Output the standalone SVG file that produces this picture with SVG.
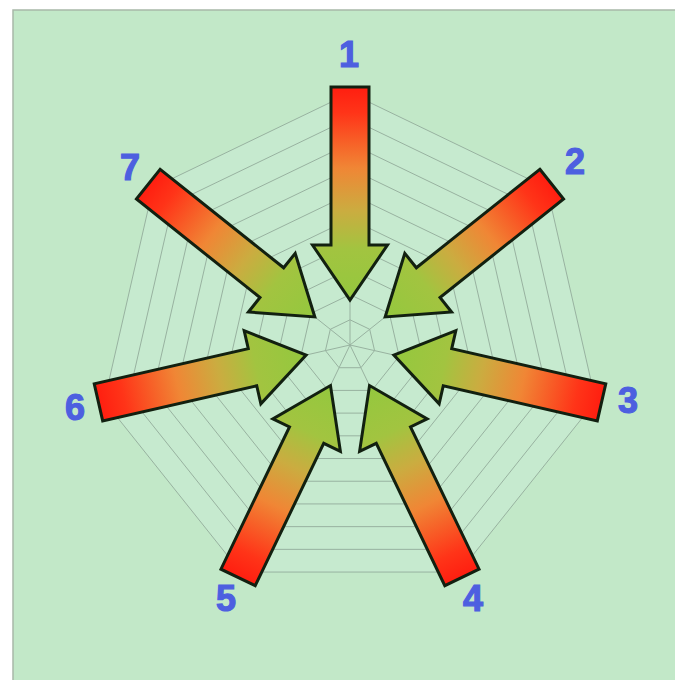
<svg xmlns="http://www.w3.org/2000/svg" xmlns:xlink="http://www.w3.org/1999/xlink" width="675" height="680" viewBox="0 0 675 680">
  <style>
    .ring { fill: none; stroke: #98b2a0; stroke-width: 1; vector-effect: non-scaling-stroke; }
    .spoke { stroke: #98b2a0; stroke-width: 1; }
    .arrow { fill: url(#grad); stroke: #122010; stroke-width: 3; stroke-linejoin: miter; }
    .lbl { font-family: "Liberation Sans", Arial, sans-serif; font-weight: bold; font-size: 36px; fill: #4d5fe0; stroke: #4d5fe0; stroke-width: 1.2; text-anchor: middle; }
  </style>
  <defs>
    <linearGradient id="grad" x1="0" y1="0" x2="0" y2="1">
      <stop offset="0" stop-color="#ff1e10"/>
      <stop offset="0.12" stop-color="#ff3418"/>
      <stop offset="0.38" stop-color="#f08635"/>
      <stop offset="0.58" stop-color="#cbac40"/>
      <stop offset="0.76" stop-color="#a2c440"/>
      <stop offset="1" stop-color="#94c83e"/>
    </linearGradient>
    <polygon id="hep" class="ring" points="0,-100 78.18,-62.35 97.49,22.25 43.39,90.1 -43.39,90.1 -97.49,22.25 -78.18,-62.35"/>
    <path id="arr" class="arrow" d="M -19,-258 H 19 V -100 H 37.5 L 0,-45 L -37.5,-100 H -19 Z"/>
  </defs>

  <rect x="0" y="0" width="675" height="680" fill="#ffffff"/>
  <rect x="13" y="10" width="663" height="671" fill="#c2e8c8" stroke="#a8b8a8" stroke-width="1.5"/>

  <g id="grid" transform="translate(350,345)">
    <polygon points="0,-252 197,-157.1 245.7,56.1 109.3,227.1 -109.3,227.1 -245.7,56.1 -197,-157.1" fill="#c6eacf"/>
    <use xlink:href="#hep" transform="scale(0.252)"/>
    <use xlink:href="#hep" transform="scale(0.504)"/>
    <use xlink:href="#hep" transform="scale(0.756)"/>
    <use xlink:href="#hep" transform="scale(1.008)"/>
    <use xlink:href="#hep" transform="scale(1.26)"/>
    <use xlink:href="#hep" transform="scale(1.512)"/>
    <use xlink:href="#hep" transform="scale(1.764)"/>
    <use xlink:href="#hep" transform="scale(2.016)"/>
    <use xlink:href="#hep" transform="scale(2.268)"/>
    <use xlink:href="#hep" transform="scale(2.52)"/>
    <line class="spoke" x1="0" y1="0" x2="0" y2="-252"/>
    <line class="spoke" x1="0" y1="0" x2="197" y2="-157.1"/>
    <line class="spoke" x1="0" y1="0" x2="245.7" y2="56.1"/>
    <line class="spoke" x1="0" y1="0" x2="109.3" y2="227.1"/>
    <line class="spoke" x1="0" y1="0" x2="-109.3" y2="227.1"/>
    <line class="spoke" x1="0" y1="0" x2="-245.7" y2="56.1"/>
    <line class="spoke" x1="0" y1="0" x2="-197" y2="-157.1"/>
  </g>

  <g id="connectors"></g>

  <g id="node-1">
    <use xlink:href="#arr" transform="translate(350,345) rotate(0)"/>
    <text class="lbl" x="349" y="67">1</text>
  </g>
  <g id="node-2">
    <use xlink:href="#arr" transform="translate(350,345) rotate(51.4286)"/>
    <text class="lbl" x="575" y="174">2</text>
  </g>
  <g id="node-3">
    <use xlink:href="#arr" transform="translate(350,345) rotate(102.857)"/>
    <text class="lbl" x="628" y="413">3</text>
  </g>
  <g id="node-4">
    <use xlink:href="#arr" transform="translate(350,345) rotate(154.286)"/>
    <text class="lbl" x="473" y="611">4</text>
  </g>
  <g id="node-5">
    <use xlink:href="#arr" transform="translate(350,345) rotate(205.714)"/>
    <text class="lbl" x="226" y="611">5</text>
  </g>
  <g id="node-6">
    <use xlink:href="#arr" transform="translate(350,345) rotate(257.143)"/>
    <text class="lbl" x="75" y="420">6</text>
  </g>
  <g id="node-7">
    <use xlink:href="#arr" transform="translate(350,345) rotate(308.571)"/>
    <text class="lbl" x="130" y="180">7</text>
  </g>
</svg>
